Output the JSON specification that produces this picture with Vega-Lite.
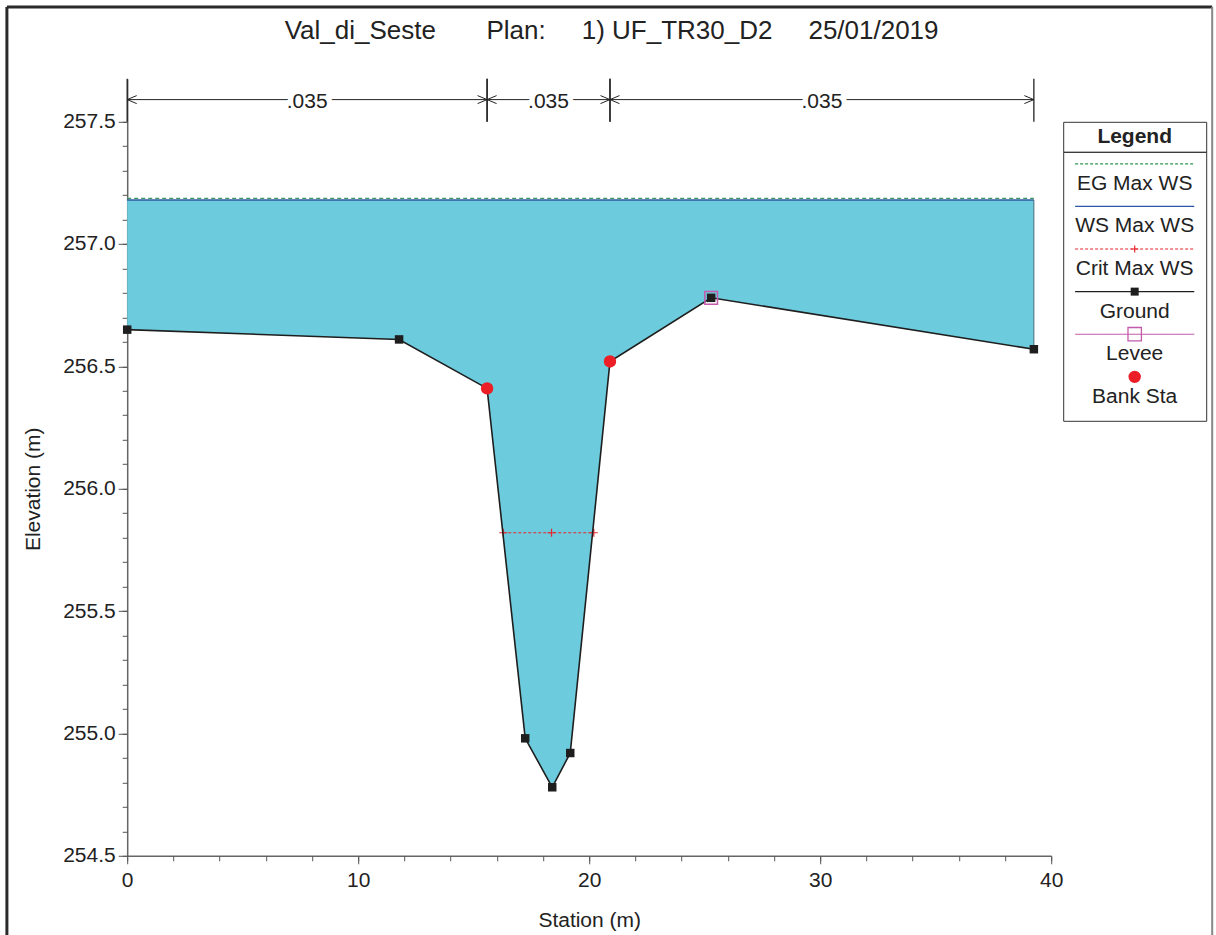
{
  "$schema": "https://vega.github.io/schema/vega-lite/v6.json",
  "padding": {"left": 5.2, "top": 4.8, "right": 0, "bottom": 0},
  "background": "white",
  "bounds": "flush",
  "spacing": 12,
  "config": {
    "font": "Liberation Sans",
    "view": {"stroke": null}
  },
  "datasets": {
    "ground": [
      {"station": 0, "elev": 256.65},
      {"station": 11.77, "elev": 256.61},
      {"station": 15.58, "elev": 256.41},
      {"station": 17.23, "elev": 254.98},
      {"station": 18.4, "elev": 254.78},
      {"station": 19.18, "elev": 254.92},
      {"station": 20.9, "elev": 256.52},
      {"station": 25.28, "elev": 256.78},
      {"station": 39.25, "elev": 256.57}
    ],
    "profiles": [
      {"profile": "WS Max WS", "station": 0, "elev": 257.18},
      {"profile": "WS Max WS", "station": 39.25, "elev": 257.18},
      {"profile": "EG Max WS", "station": 0, "elev": 257.186},
      {"profile": "EG Max WS", "station": 39.25, "elev": 257.186}
    ],
    "crit": [
      {"station": 16.28, "elev": 255.82},
      {"station": 18.37, "elev": 255.82},
      {"station": 20.2, "elev": 255.82}
    ],
    "levee": [
      {"station": 25.28, "elev": 256.78}
    ],
    "bank": [
      {"station": 15.58, "elev": 256.41},
      {"station": 20.9, "elev": 256.52}
    ],
    "manning": [
      {"zone": "LOB", "station": 0, "n": ".035"},
      {"zone": "LOB", "station": 15.58, "n": ".035"},
      {"zone": "Channel", "station": 15.58, "n": ".035"},
      {"zone": "Channel", "station": 20.9, "n": ".035"},
      {"zone": "ROB", "station": 20.9, "n": ".035"},
      {"zone": "ROB", "station": 39.25, "n": ".035"}
    ],
    "legend": [
      {"item": "EG Max WS"},
      {"item": "WS Max WS"},
      {"item": "Crit Max WS"},
      {"item": "Ground"},
      {"item": "Levee"},
      {"item": "Bank Sta"}
    ]
  },
  "hconcat": [
    {
      "width": 924,
      "height": 777,
      "resolve": {"axis": {"x": "independent", "y": "independent"}},
      "layer": [
        {
          "data": {"name": "ground"},
          "mark": {"type": "area", "color": "#6ccbdc", "opacity": 1},
          "encoding": {
            "x": {
              "field": "station", "type": "quantitative",
              "scale": {"domain": [0, 40], "nice": false, "zero": false},
              "axis": {
                "orient": "bottom",
                "values": [0, 10, 20, 30, 40],
                "tickSize": 8,
                "grid": false,
                "labelFlush": false,
                "labelOverlap": false,
                "domainColor": "#666",
                "domainWidth": 1.5,
                "tickColor": "#555",
                "tickWidth": 1,
                "labelFontSize": 21,
                "labelColor": "#222",
                "labelPadding": 6,
                "title": "Station (m)",
                "titleFontSize": 21,
                "titleFontWeight": "normal",
                "titleColor": "#222",
                "titlePadding": 19
              }
            },
            "y": {
              "field": "elev", "type": "quantitative",
              "scale": {"domain": [254.5, 257.675], "nice": false, "zero": false},
              "axis": {
                "orient": "left",
                "values": [254.5, 255.0, 255.5, 256.0, 256.5, 257.0, 257.5],
                "format": ".1f",
                "tickSize": 9,
                "grid": false,
                "labelOverlap": false,
                "labelFlush": false,
                "domainColor": "#666",
                "domainWidth": 1.5,
                "tickColor": "#555",
                "tickWidth": 1,
                "labelFontSize": 21,
                "labelColor": "#222",
                "labelPadding": 3,
                "title": "Elevation (m)",
                "titleFontSize": 21,
                "titleFontWeight": "normal",
                "titleColor": "#222",
                "titleY": 410,
                "titlePadding": 19
              }
            },
            "y2": {"datum": 257.18}
          }
        },
        {
          "data": {"name": "profiles"},
          "transform": [{"filter": "datum.profile === 'WS Max WS'"}],
          "mark": {"type": "line", "color": "#2f57a5", "strokeWidth": 1.6},
          "encoding": {
            "x": {
              "field": "station", "type": "quantitative",
              "axis": {
                "orient": "bottom",
                "values": [0, 2, 4, 6, 8, 10, 12, 14, 16, 18, 20, 22, 24, 26, 28, 30, 32, 34, 36, 38, 40],
                "tickSize": 5, "labels": false, "domain": false, "grid": false, "title": null,
                "tickColor": "#555", "tickWidth": 1
              }
            },
            "y": {
              "field": "elev", "type": "quantitative",
              "axis": {
                "orient": "left",
                "values": [254.5, 254.6, 254.7, 254.8, 254.9, 255.0, 255.1, 255.2, 255.3, 255.4, 255.5, 255.6, 255.7, 255.8, 255.9, 256.0, 256.1, 256.2, 256.3, 256.4, 256.5, 256.6, 256.7, 256.8, 256.9, 257.0, 257.1, 257.2, 257.3, 257.4, 257.5],
                "tickSize": 5, "labels": false, "domain": false, "grid": false, "title": null,
                "tickColor": "#555", "tickWidth": 1
              }
            }
          }
        },
        {
          "data": {"name": "profiles"},
          "transform": [{"filter": "datum.profile === 'EG Max WS'"}],
          "mark": {"type": "line", "color": "#3a9a5e", "strokeWidth": 1.3, "strokeDash": [4, 3]},
          "encoding": {
            "x": {"field": "station", "type": "quantitative", "axis": null},
            "y": {"field": "elev", "type": "quantitative", "axis": null}
          }
        },
        {
          "data": {"name": "ground"},
          "transform": [{"filter": "datum.station === 39.25"}],
          "mark": {"type": "rule", "color": "#4a6b78", "strokeWidth": 1},
          "encoding": {
            "x": {"field": "station", "type": "quantitative", "axis": null},
            "y": {"field": "elev", "type": "quantitative", "axis": null},
            "y2": {"datum": 257.18}
          }
        },
        {
          "data": {"name": "crit"},
          "mark": {"type": "line", "color": "#e8262e", "strokeWidth": 1, "strokeDash": [3, 2]},
          "encoding": {
            "x": {"field": "station", "type": "quantitative", "axis": null},
            "y": {"field": "elev", "type": "quantitative", "axis": null}
          }
        },
        {
          "data": {"name": "crit"},
          "mark": {"type": "point", "shape": "M-1,0H1M0,-1V1", "filled": false, "color": "#e8262e", "size": 64, "strokeWidth": 1.2, "opacity": 1},
          "encoding": {
            "x": {"field": "station", "type": "quantitative", "axis": null},
            "y": {"field": "elev", "type": "quantitative", "axis": null}
          }
        },
        {
          "data": {"name": "ground"},
          "mark": {"type": "line", "color": "#1e1e1e", "strokeWidth": 1.6},
          "encoding": {
            "x": {"field": "station", "type": "quantitative", "axis": null},
            "y": {"field": "elev", "type": "quantitative", "axis": null}
          }
        },
        {
          "data": {"name": "ground"},
          "mark": {"type": "point", "shape": "square", "filled": true, "color": "#1e1e1e", "size": 72, "opacity": 1},
          "encoding": {
            "x": {"field": "station", "type": "quantitative", "axis": null},
            "y": {"field": "elev", "type": "quantitative", "axis": null}
          }
        },
        {
          "data": {"name": "levee"},
          "mark": {"type": "point", "shape": "square", "filled": false, "color": "#c45aaa", "size": 160, "strokeWidth": 1.5, "opacity": 1},
          "encoding": {
            "x": {"field": "station", "type": "quantitative", "axis": null},
            "y": {"field": "elev", "type": "quantitative", "axis": null}
          }
        },
        {
          "data": {"name": "bank"},
          "mark": {"type": "point", "shape": "circle", "filled": true, "color": "#ec1f27", "size": 154, "opacity": 1},
          "encoding": {
            "x": {"field": "station", "type": "quantitative", "axis": null},
            "y": {"field": "elev", "type": "quantitative", "axis": null}
          }
        },
        {
          "data": {"name": "manning"},
          "mark": {"type": "rule", "color": "#222", "strokeWidth": 1.3},
          "encoding": {
            "x": {"field": "station", "type": "quantitative", "axis": null},
            "y": {"datum": 257.5, "axis": null},
            "y2": {"datum": 257.675}
          }
        },
        {
          "data": {"name": "manning"},
          "mark": {"type": "line", "color": "#222", "strokeWidth": 1},
          "encoding": {
            "x": {"field": "station", "type": "quantitative", "axis": null},
            "y": {"datum": 257.59, "axis": null},
            "detail": {"field": "zone"}
          }
        },
        {
          "data": {"name": "manning"},
          "mark": {"type": "point", "shape": "M1.9,-0.8L0,0L1.9,0.8", "filled": false, "color": "#222", "size": 100, "strokeWidth": 1, "opacity": 1},
          "encoding": {
            "x": {"aggregate": "min", "field": "station", "type": "quantitative", "axis": null},
            "y": {"datum": 257.59, "axis": null},
            "detail": {"field": "zone"}
          }
        },
        {
          "data": {"name": "manning"},
          "mark": {"type": "point", "shape": "M-1.9,-0.8L0,0L-1.9,0.8", "filled": false, "color": "#222", "size": 100, "strokeWidth": 1, "opacity": 1},
          "encoding": {
            "x": {"aggregate": "max", "field": "station", "type": "quantitative", "axis": null},
            "y": {"datum": 257.59, "axis": null},
            "detail": {"field": "zone"}
          }
        },
        {
          "data": {"name": "manning"},
          "mark": {"type": "text", "fontSize": 21, "fill": "white", "stroke": "white", "strokeWidth": 11, "strokeJoin": "round", "baseline": "middle", "dy": 2},
          "encoding": {
            "x": {"aggregate": "mean", "field": "station", "type": "quantitative", "axis": null},
            "y": {"datum": 257.59, "axis": null},
            "text": {"field": "n"},
            "detail": {"field": "zone"}
          }
        },
        {
          "data": {"name": "manning"},
          "mark": {"type": "text", "fontSize": 21, "color": "#222", "baseline": "middle", "dy": 2},
          "encoding": {
            "x": {"aggregate": "mean", "field": "station", "type": "quantitative", "axis": null},
            "y": {"datum": 257.59, "axis": null},
            "text": {"field": "n"},
            "detail": {"field": "zone"}
          }
        },
        {
          "data": {"values": [{}]},
          "mark": {"type": "text", "fontSize": 26, "color": "#222", "baseline": "alphabetic", "align": "center"},
          "encoding": {
            "x": {"datum": 20.97, "axis": null},
            "y": {"datum": 257.838, "axis": null},
            "text": {"value": "Val_di_Seste\u00a0\u00a0\u00a0\u00a0\u00a0\u00a0\u00a0Plan:\u00a0\u00a0\u00a0\u00a0\u00a01)\u00a0UF_TR30_D2\u00a0\u00a0\u00a0\u00a0\u00a025/01/2019"}
          }
        },
        {
          "data": {"values": [{}]},
          "mark": {"type": "rule", "color": "#2b2b2b", "strokeWidth": 3},
          "encoding": {
            "x": {"datum": -5.208, "axis": null},
            "x2": {"datum": 46.97},
            "y": {"datum": 257.968, "axis": null}
          }
        },
        {
          "data": {"values": [{}]},
          "mark": {"type": "rule", "color": "#2b2b2b", "strokeWidth": 3},
          "encoding": {
            "x": {"datum": -5.208, "axis": null},
            "y": {"datum": 257.968, "axis": null},
            "y2": {"datum": 254.1}
          }
        },
        {
          "data": {"values": [{}]},
          "mark": {"type": "rule", "color": "#888", "strokeWidth": 2},
          "encoding": {
            "x": {"datum": 46.97, "axis": null},
            "y": {"datum": 257.968, "axis": null},
            "y2": {"datum": 254.1}
          }
        }
      ]
    },
    {
      "bounds": "flush",
      "spacing": 0,
      "vconcat": [
        {
          "width": 143,
          "height": 43,
          "view": {"stroke": null},
          "data": {"values": [{}]},
          "mark": {"type": "text", "text": ""},
          "encoding": {}
        },
        {
          "width": 143,
          "height": 30,
          "view": {"stroke": "#333", "strokeWidth": 1},
          "data": {"values": [{}]},
          "mark": {"type": "text", "text": "Legend", "fontSize": 21, "fontWeight": "bold", "color": "#222", "baseline": "middle"},
          "encoding": {}
        },
        {
          "width": 143,
          "height": 269,
          "view": {"stroke": "#333", "strokeWidth": 1},
          "data": {"name": "legend"},
          "layer": [
            {
              "transform": [{"filter": "datum.item !== 'Bank Sta'"}],
              "mark": {"type": "rule", "strokeWidth": 1.2},
              "encoding": {
                "x": {"datum": 0, "scale": {"domain": [-0.082, 1.082]}, "axis": null},
                "x2": {"datum": 1},
                "y": {
                  "field": "item", "type": "nominal", "bandPosition": 0.125,
                  "scale": {"type": "band", "domain": ["EG Max WS", "WS Max WS", "Crit Max WS", "Ground", "Levee", "Bank Sta"], "paddingInner": 0, "paddingOuter": 0.157},
                  "axis": null
                },
                "color": {
                  "field": "item", "type": "nominal",
                  "scale": {"domain": ["EG Max WS", "WS Max WS", "Crit Max WS", "Ground", "Levee"], "range": ["#2e9450", "#2f57a5", "#e8262e", "#1e1e1e", "#c45aaa"]},
                  "legend": null
                },
                "strokeDash": {
                  "field": "item", "type": "nominal",
                  "scale": {"domain": ["EG Max WS", "WS Max WS", "Crit Max WS", "Ground", "Levee"], "range": [[3, 2], [1, 0], [3, 2], [1, 0], [1, 0]]},
                  "legend": null
                }
              }
            },
            {
              "transform": [{"filter": "datum.item === 'Crit Max WS'"}],
              "mark": {"type": "point", "shape": "M-1,0H1M0,-1V1", "filled": false, "color": "#e8262e", "size": 49, "strokeWidth": 1.2, "opacity": 1},
              "encoding": {
                "x": {"datum": 0.5, "axis": null},
                "y": {"field": "item", "type": "nominal", "bandPosition": 0.125, "axis": null}
              }
            },
            {
              "transform": [{"filter": "datum.item === 'Ground'"}],
              "mark": {"type": "point", "shape": "square", "filled": true, "color": "#1e1e1e", "size": 64, "opacity": 1},
              "encoding": {
                "x": {"datum": 0.5, "axis": null},
                "y": {"field": "item", "type": "nominal", "bandPosition": 0.125, "axis": null}
              }
            },
            {
              "transform": [{"filter": "datum.item === 'Levee'"}],
              "mark": {"type": "point", "shape": "square", "filled": false, "color": "#c45aaa", "size": 180, "strokeWidth": 1.3, "opacity": 1},
              "encoding": {
                "x": {"datum": 0.5, "axis": null},
                "y": {"field": "item", "type": "nominal", "bandPosition": 0.125, "axis": null}
              }
            },
            {
              "transform": [{"filter": "datum.item === 'Bank Sta'"}],
              "mark": {"type": "point", "shape": "circle", "filled": true, "color": "#ec1f27", "size": 154, "opacity": 1},
              "encoding": {
                "x": {"datum": 0.5, "axis": null},
                "y": {"field": "item", "type": "nominal", "bandPosition": 0.125, "axis": null}
              }
            },
            {
              "mark": {"type": "text", "fontSize": 21, "color": "#222", "baseline": "middle"},
              "encoding": {
                "x": {"datum": 0.5, "axis": null},
                "y": {"field": "item", "type": "nominal", "bandPosition": 0.594, "axis": null},
                "text": {"field": "item"}
              }
            }
          ]
        }
      ]
    }
  ]
}
